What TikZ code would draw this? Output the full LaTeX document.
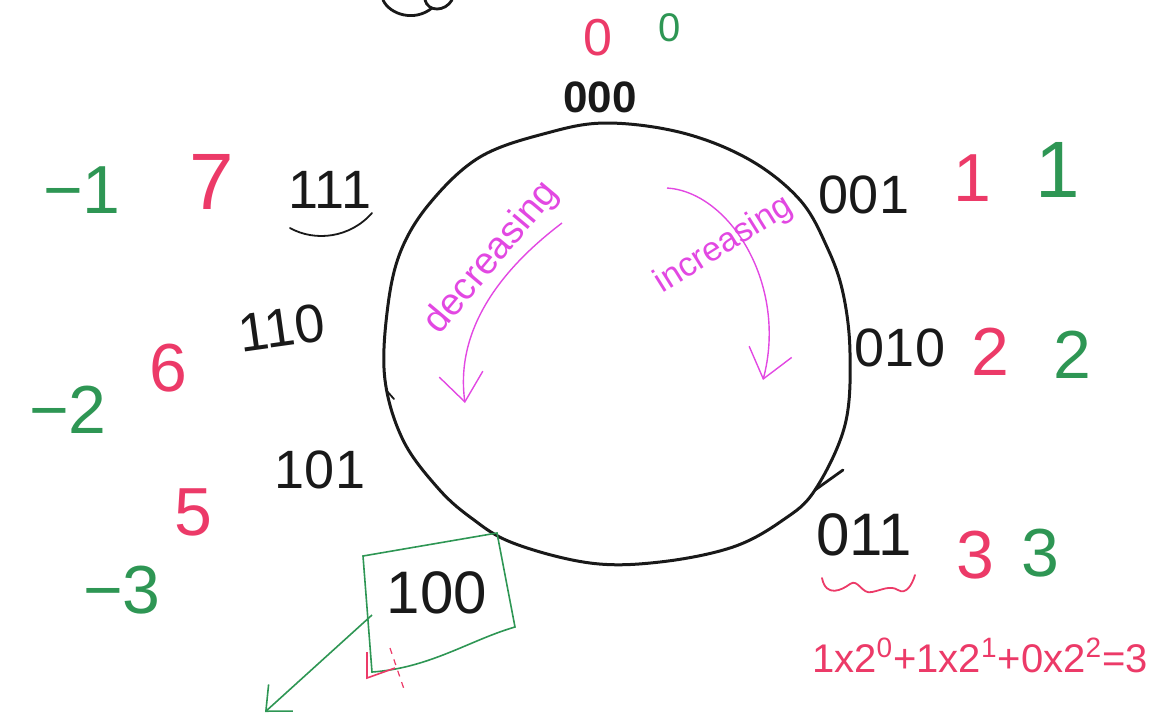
\documentclass[tikz,border=0pt]{standalone}
\usepackage{fontspec}
\setmainfont{Liberation Sans}
\usetikzlibrary{arrows.meta}
\definecolor{penpink}{RGB}{236,58,104}
\definecolor{pengreen}{RGB}{46,150,84}
\definecolor{penmag}{RGB}{226,72,226}
\definecolor{penblack}{RGB}{25,25,25}
\begin{document}
\begin{tikzpicture}[x=0.5pt,y=-0.5pt,
  bin/.style={text=penblack, font=\fontsize{27}{27}\selectfont, inner sep=0pt},
  dec/.style={text=penpink, font=\fontsize{34}{34}\selectfont, inner sep=0pt},
  sgn/.style={text=pengreen, font=\fontsize{34}{34}\selectfont, inner sep=0pt},
  word/.style={text=penmag, font=\fontsize{19}{19}\selectfont, inner sep=0pt},
  magarrow/.style={draw=penmag, line width=0.7pt, -{Straight Barb[length=14pt,width=22pt,line width=0.7pt]}},
  ink/.style={draw=penblack, line width=0.9pt, line cap=round},
]
\useasboundingbox (0,0) rectangle (1152,719);

% main ring (hand drawn)
\draw[ink, line width=1.5pt] plot[smooth cycle, tension=0.6] coordinates {
  (607,123) (683,133) (750,160) (800,200) (827,247) (843,293) (850,353)
  (845,425) (815,490) (783,520) (733,547) (660,562) (590,563) (513,543)
  (470,517) (437,487) (403,440) (385,380) (387,313) (400,253) (430,203)
  (480,157) (547,133)};
\draw[ink, line width=1.4pt] (815,490) -- (843,470);
\draw[ink] (386,390) -- (394,399);

% top scribble (cut off)
\draw[ink, line width=1.4pt] (383,0) .. controls (390,15) and (415,22) .. (432,8);
\draw[ink, line width=1.4pt] (425,0) .. controls (428,12) and (445,12) .. (452,0);

% top
\node[bin, font=\fontsize{22}{22}\selectfont\bfseries] (b000) at (600,97) {000};
\node[dec, font=\fontsize{26}{26}\selectfont] (d0) at (598,38) {0};
\node[sgn, font=\fontsize{20}{20}\selectfont] (s0) at (670,28) {0};

% right side
\node[bin] (b001) at (864,195) {001};
\node[dec] (d1) at (972,178) {1};
\node[sgn, font=\fontsize{40}{40}\selectfont] (s1) at (1058,170) {1};

\node[bin] (b010) at (900,348) {010};
\node[dec] (d2) at (990,352) {2};
\node[sgn] (s2) at (1072,355) {2};

\node[bin, font=\fontsize{30}{30}\selectfont] (b011) at (864,535) {011};
\node[dec] (d3) at (975,555) {3};
\node[sgn] (s3) at (1040,553) {3};

\draw[draw=penpink, line width=0.9pt, line cap=round]
  (822,578) .. controls (826,598) and (842,590) .. (850,584)
  .. controls (858,578) and (862,595) .. (872,592)
  .. controls (882,590) and (890,585) .. (898,590)
  .. controls (906,595) and (912,585) .. (915,575);
\node[text=penpink, font=\fontsize{20}{20}\selectfont, inner sep=0pt] (formula) at (980,655)
  {1x2\textsuperscript{0}+1x2\textsuperscript{1}+0x2\textsuperscript{2}=3};

% left side
\node[bin] (b111) at (330,190) {111};
\draw[ink] (290,228) .. controls (315,242) and (350,238) .. (372,213);
\node[dec, font=\fontsize{40}{40}\selectfont] (d7) at (212,182) {7};
\node[sgn] (sm1) at (82,190) {−1};

\node[bin, rotate=8] (b110) at (282,328) {110};
\node[dec] (d6) at (168,368) {6};
\node[sgn] (sm2) at (68,410) {−2};

\node[bin] (b101) at (320,470) {101};
\node[dec] (d5) at (193,512) {5};
\node[sgn] (sm3) at (122,590) {−3};

% boxed 100
\coordinate (q1) at (363,556);
\coordinate (q2) at (497,533);
\coordinate (q3) at (515,627);
\coordinate (q4) at (372,672);
\draw[pengreen, line width=0.8pt] (q1) -- (q2) -- (q3) .. controls (470,640) and (430,668) .. (q4) -- cycle;
\node[bin, font=\fontsize{30}{30}\selectfont] (b100) at (437,593) {100};
\coordinate (gfrom) at (372,615);
\coordinate (gto) at (265,712);
\draw[pengreen, line width=0.8pt, -{Straight Barb[length=10pt,width=18pt,line width=0.8pt]}] (gfrom) -- (gto);
\draw[penpink, line width=0.8pt] (367,652) -- (367,678) -- (395,668);
\draw[penpink, line width=0.6pt, dashed] (390,648) -- (405,692);

% direction words and arrows
\node[word, rotate=50] (wdec) at (492,258) {decreasing};
\node[word, rotate=32, font=\fontsize{17}{17}\selectfont] (winc) at (724,245) {increasing};
\coordinate (da) at (562,223);
\coordinate (db) at (465,403);
\coordinate (ia) at (667,188);
\coordinate (ib) at (763,380);
\draw[magarrow] (da) .. controls (500,270) and (455,330) .. (db);
\draw[magarrow] (ia) .. controls (730,192) and (788,285) .. (ib);
\end{tikzpicture}
\end{document}
